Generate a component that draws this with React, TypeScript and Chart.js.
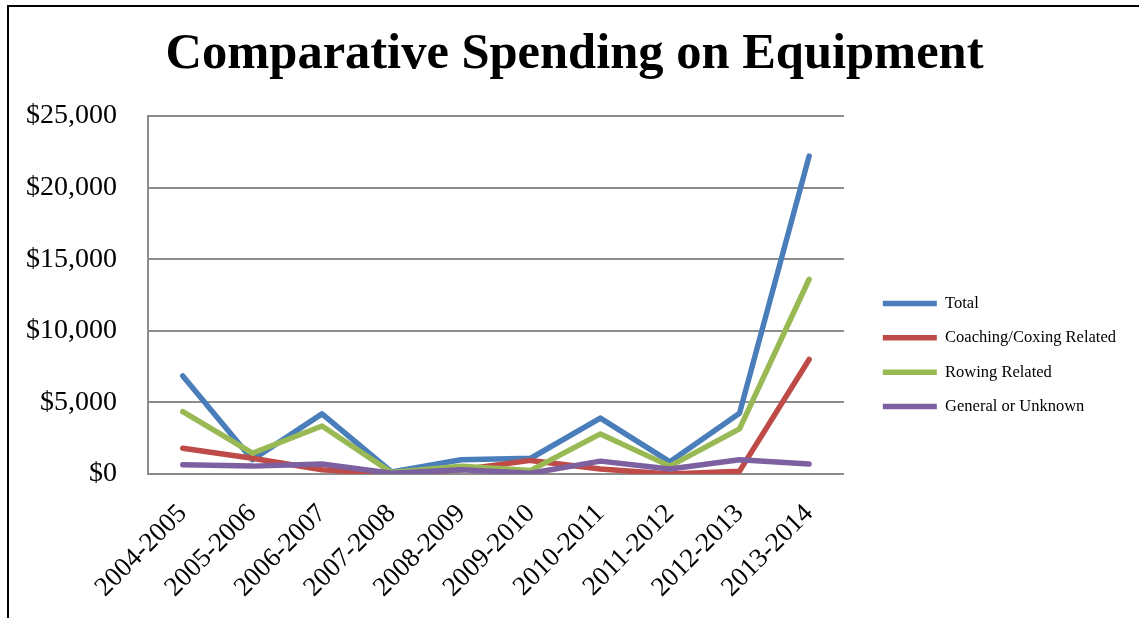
import React, { useEffect, useRef } from "react";
import { Chart, registerables } from "chart.js";

Chart.register(...registerables);

const categories = [
  "2004-2005", "2005-2006", "2006-2007", "2007-2008", "2008-2009",
  "2009-2010", "2010-2011", "2011-2012", "2012-2013", "2013-2014",
];
const totalValues = [6850, 1000, 4200, 150, 1000, 1100, 3900, 850, 4250, 22200];
const coachingValues = [1800, 1100, 300, 0, 300, 950, 350, 0, 200, 8000];
const rowingValues = [4350, 1450, 3350, 100, 550, 250, 2800, 550, 3150, 13600];
const generalValues = [650, 550, 700, 50, 300, 50, 900, 350, 1000, 700];
const seriesNames = ["Total", "Coaching/Coxing Related", "Rowing Related", "General or Unknown"];
const yTicks = [0, 5000, 10000, 15000, 20000, 25000];
const titleText = "Comparative Spending on Equipment";

const SERIF = "'Liberation Serif', 'Times New Roman', serif";

export default function App() {
  const ref = useRef<HTMLCanvasElement | null>(null);

  useEffect(() => {
    if (!ref.current) return;
    const colors = ["#4A7EBB", "#BE4B48", "#98B954", "#7D60A0"];
    const values = [totalValues, coachingValues, rowingValues, generalValues];
    const chart = new Chart(ref.current, {
      type: "line",
      data: {
        labels: categories,
        datasets: seriesNames.map((name, i) => ({
          label: name,
          data: values[i],
          borderColor: colors[i],
          backgroundColor: colors[i],
          borderWidth: 5.5,
          borderCapStyle: "round" as const,
          borderJoinStyle: "round" as const,
          pointRadius: 0,
          pointHoverRadius: 0,
          tension: 0,
          fill: false,
          order: 3 - i,
          yAxisID: "y",
        })),
      },
      options: {
        animation: false,
        responsive: false,
        maintainAspectRatio: false,
        events: [],
        layout: { padding: { top: 0, bottom: 0, left: 14, right: 13 } },
        plugins: {
          tooltip: { enabled: false },
          title: {
            display: true,
            text: titleText,
            color: "#000",
            font: { family: SERIF, size: 50.5, weight: "bold", lineHeight: 1.2 },
            padding: { top: 17.5, bottom: 30.9 },
          },
          legend: {
            display: true,
            position: "right",
            align: "center",
            maxWidth: 400,
            title: {
              display: true,
              text: "",
              font: { size: 10, lineHeight: 1 },
              padding: { top: 75, bottom: 0 },
            },
            labels: {
              usePointStyle: true,
              pointStyle: "line",
              pointStyleWidth: 54,
              padding: 17.9,
              color: "#000",
              font: { family: SERIF, size: 16.5 },
              sort: (a: any, b: any) => a.datasetIndex - b.datasetIndex,
            },
          },
        },
        scales: {
          x: {
            type: "category",
            offset: true,
            grid: { display: false, drawTicks: false },
            border: { display: true, color: "#8c8c8c", width: 2 },
            ticks: {
              autoSkip: false,
              minRotation: 45,
              maxRotation: 45,
              padding: 24,
              color: "#000",
              font: { family: SERIF, size: 27 },
            },
            afterFit: (s: any) => {
              s.height = 144;
            },
          },
          y: {
            type: "linear",
            position: "left",
            min: 0,
            max: 25000,
            afterBuildTicks: (s: any) => {
              s.ticks = yTicks.map((v) => ({ value: v }));
            },
            grid: { color: "#8c8c8c", lineWidth: 2, drawTicks: false },
            border: { display: true, color: "#8c8c8c", width: 2 },
            ticks: {
              padding: 31,
              color: "#000",
              font: { family: SERIF, size: 28 },
              callback: (v: any) => "$" + Number(v).toLocaleString("en-US"),
            },
            afterFit: (s: any) => {
              s.width = 125;
            },
          },
          gap: {
            type: "linear",
            position: "right",
            display: true,
            grid: { display: false, drawTicks: false },
            border: { display: false },
            ticks: { display: false },
            afterFit: (s: any) => {
              s.width = 21;
            },
          },
        },
      },
    });
    return () => chart.destroy();
  }, []);

  return (
    <div
      style={{
        position: "absolute",
        left: 7,
        top: 5,
        borderTop: "2px solid #000",
        borderLeft: "2px solid #000",
        width: 1130,
        height: 611,
        background: "#fff",
      }}
    >
      <canvas ref={ref} width={1130} height={611} style={{ display: "block", width: 1130, height: 611 }} />
    </div>
  );
}
